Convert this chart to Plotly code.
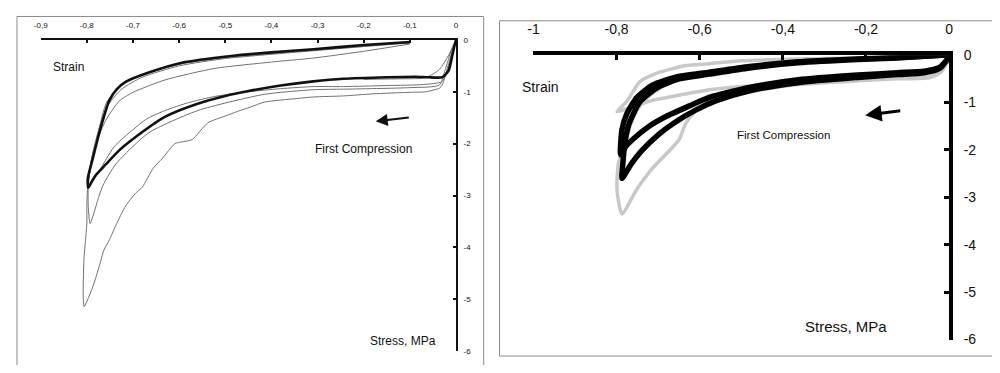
import plotly.graph_objects as go

# page is 1000x373 with the default 8 px body margin, so the figure is 984x357
OFF = 8
W, H = 1000 - 2 * OFF, 373 - 2 * OFF

# ---------------- Left panel data (strain, stress) ----------------
left_x_ticks = [-0.9, -0.8, -0.7, -0.6, -0.5, -0.4, -0.3, -0.2, -0.1, 0]
left_x_ticktext = ["-0,9", "-0,8", "-0,7", "-0,6", "-0,5", "-0,4", "-0,3", "-0,2", "-0,1", "0"]
y_ticks = [0, -1, -2, -3, -4, -5, -6]
y_ticktext = ["0", "-1", "-2", "-3", "-4", "-5", "-6"]

# thin cycle 1 (first compression, loading + unloading)
lt1_strain = [0, -0.008, -0.016, -0.03, -0.036, -0.066, -0.1, -0.18, -0.244, -0.309, -0.345, -0.416,
              -0.444, -0.474, -0.501, -0.538, -0.572, -0.609, -0.636, -0.656, -0.68, -0.694, -0.716,
              -0.737, -0.752, -0.763, -0.773, -0.786, -0.806,
              -0.808, -0.806, -0.803, -0.80, -0.80, -0.798, -0.79, -0.778, -0.759, -0.73, -0.70,
              -0.63, -0.523, -0.38, -0.309, -0.2, -0.1]
lt1_stress = [0, -0.2, -0.46, -0.87, -0.93, -1.0, -1.01, -1.04, -1.08, -1.1, -1.13, -1.2,
              -1.29, -1.38, -1.47, -1.6, -1.92, -2.0, -2.28, -2.47, -2.84, -2.95, -3.2,
              -3.57, -3.87, -4.05, -4.36, -4.73, -5.14,
              -4.86, -4.18, -3.87, -3.54, -3.2, -2.8, -2.4, -1.95, -1.55, -1.18, -1.01,
              -0.77, -0.55, -0.41, -0.35, -0.22, -0.08]

# thin cycle 2
lt2_strain = [0, -0.009, -0.024, -0.036, -0.1, -0.244, -0.309, -0.416, -0.559, -0.666, -0.737,
              -0.765, -0.774, -0.793,
              -0.797, -0.797, -0.79, -0.775, -0.757, -0.725, -0.68, -0.6, -0.5, -0.35, -0.2, -0.1]
lt2_stress = [0, -0.17, -0.59, -0.87, -0.92, -0.95, -0.96, -1.05, -1.36, -1.79, -2.39,
              -2.8, -3.02, -3.54,
              -3.2, -2.85, -2.3, -1.75, -1.3, -0.95, -0.72, -0.5, -0.36, -0.24, -0.13, -0.06]

# thin cycle 3
lt3_strain = [0, -0.012, -0.03, -0.07, -0.15, -0.244, -0.309, -0.38, -0.45, -0.523, -0.58, -0.63,
              -0.67, -0.70, -0.74, -0.773, -0.797,
              -0.79, -0.776, -0.757, -0.72, -0.67, -0.6, -0.49, -0.31, -0.2, -0.1]
lt3_stress = [0, -0.4, -0.8, -0.86, -0.88, -0.9, -0.9, -0.94, -1.0, -1.09, -1.21, -1.36,
              -1.52, -1.73, -2.05, -2.52, -2.85,
              -2.3, -1.8, -1.2, -0.84, -0.65, -0.47, -0.33, -0.2, -0.12, -0.05]

# thin unloading near the origin
lt4_strain = [-0.2, -0.12, -0.066, -0.036, -0.015, 0]
lt4_stress = [-0.76, -0.75, -0.73, -0.57, -0.28, 0]

# thick black cycle
lk_strain = [0, -0.003, -0.008, -0.016, -0.03, -0.06, -0.088, -0.15, -0.244, -0.309, -0.38, -0.452,
             -0.5, -0.56, -0.63, -0.70, -0.73, -0.759, -0.78, -0.79, -0.797,
             -0.798, -0.787, -0.773, -0.762, -0.752, -0.735, -0.716, -0.666, -0.594, -0.487,
             -0.4, -0.309, -0.2, -0.099]
lk_stress = [0, -0.1, -0.3, -0.59, -0.72, -0.72, -0.71, -0.72, -0.75, -0.8, -0.88, -0.99,
             -1.08, -1.23, -1.48, -1.91, -2.13, -2.4, -2.6, -2.74, -2.85,
             -2.67, -2.28, -1.79, -1.45, -1.18, -0.95, -0.81, -0.63, -0.44, -0.31,
             -0.24, -0.18, -0.1, -0.04]

# ---------------- Right panel data ----------------
right_x_ticks = [-1, -0.8, -0.6, -0.4, -0.2, 0]
right_x_ticktext = ["-1", "-0,8", "-0,6", "-0,4", "-0,2", "0"]

# gray outer loop (first compression)
rg1_strain = [0, -0.005, -0.02, -0.045, -0.125, -0.22, -0.363, -0.46, -0.52, -0.577, -0.609, -0.633,
              -0.649, -0.668, -0.713, -0.752, -0.787,
              -0.799, -0.796, -0.787, -0.778, -0.768, -0.75, -0.72, -0.68, -0.62, -0.55]
rg1_stress = [0, -0.15, -0.36, -0.47, -0.5, -0.54, -0.62, -0.74, -0.84, -0.97, -1.17, -1.43,
              -1.77, -1.97, -2.38, -2.84, -3.35,
              -2.84, -2.3, -2.04, -1.8, -1.5, -1.15, -0.85, -0.62, -0.45, -0.36]

# gray inner loop
rg2_strain = [0, -0.004, -0.023, -0.045, -0.125, -0.22, -0.363, -0.5, -0.577, -0.641, -0.72, -0.775,
              -0.799,
              -0.775, -0.744, -0.696, -0.633, -0.577, -0.5, -0.363, -0.22, -0.125]
rg2_stress = [0, -0.1, -0.33, -0.45, -0.48, -0.5, -0.56, -0.66, -0.73, -0.83, -0.97, -1.13,
              -1.19,
              -0.97, -0.56, -0.36, -0.22, -0.18, -0.12, -0.08, -0.06, -0.06]

# black band, cycle with tip near -2.1 MPa
rk1_strain = [0, -0.004, -0.023, -0.06, -0.125, -0.22, -0.363, -0.48, -0.577, -0.625, -0.68, -0.72,
              -0.76, -0.78, -0.79,
              -0.791, -0.787, -0.775, -0.751, -0.713, -0.656, -0.577, -0.48, -0.363, -0.22,
              -0.125, -0.05, 0]
rk1_stress = [0, -0.08, -0.26, -0.34, -0.37, -0.42, -0.52, -0.68, -0.89, -1.07, -1.29, -1.49,
              -1.77, -1.95, -2.1,
              -2.04, -1.57, -1.23, -0.89, -0.63, -0.46, -0.36, -0.24, -0.14, -0.08,
              -0.05, -0.02, 0]

# black band, cycle with tip near -2.6 MPa
rk2_strain = [0, -0.004, -0.023, -0.06, -0.125, -0.22, -0.363, -0.48, -0.56, -0.61, -0.66, -0.70,
              -0.74, -0.765, -0.787,
              -0.785, -0.78, -0.77, -0.745, -0.705, -0.65, -0.577, -0.48, -0.363, -0.22,
              -0.125, -0.05, 0]
rk2_stress = [0, -0.08, -0.28, -0.37, -0.41, -0.47, -0.58, -0.75, -0.96, -1.16, -1.42, -1.68,
              -2.02, -2.3, -2.6,
              -2.3, -1.85, -1.45, -1.0, -0.7, -0.5, -0.4, -0.27, -0.16, -0.09,
              -0.06, -0.02, 0]


def px(p):
    # page pixel -> paper x
    return (p - OFF) / W


def py(p):
    # page pixel -> paper y
    return 1 - (p - OFF) / H


FONT = "Liberation Sans, Arial, sans-serif"
THIN = "#707070"
LGRAY = "#c8c8c8"

fig = go.Figure()


def add(x, y, color, width, ax):
    fig.add_trace(go.Scatter(x=x, y=y, mode="lines", xaxis="x" + ax, yaxis="y" + ax,
                             line=dict(color=color, width=width, shape="spline", smoothing=0.6),
                             hoverinfo="skip", showlegend=False))


# left panel
add(lt1_strain, lt1_stress, THIN, 1, "")
add(lt2_strain, lt2_stress, THIN, 1, "")
add(lt3_strain, lt3_stress, THIN, 1, "")
add(lt4_strain, lt4_stress, THIN, 1, "")
add(lk_strain, lk_stress, "#111111", 2.6, "")

# right panel
add(rg1_strain, rg1_stress, LGRAY, 3.5, "2")
add(rg2_strain, rg2_stress, LGRAY, 3.5, "2")
add(rk1_strain, rk1_stress, "#000000", 5.5, "2")
add(rk2_strain, rk2_stress, "#000000", 5.5, "2")

fig.update_layout(
    width=W, height=H, margin=dict(l=0, r=0, t=0, b=0),
    paper_bgcolor="white", plot_bgcolor="white",
    font=dict(family=FONT, color="#111111"),
    xaxis=dict(domain=[px(34), px(454)], range=[-0.9, 0], side="top", anchor="y",
               showgrid=False, zeroline=False, showline=True, linecolor="#111", linewidth=2,
               ticks="inside", ticklen=3, tickwidth=2, tickcolor="#111",
               tickvals=left_x_ticks, ticktext=left_x_ticktext,
               tickfont=dict(size=8, family=FONT), ticklabelstandoff=7),
    yaxis=dict(domain=[py(359), py(33)], range=[-6, 0], side="right", anchor="x",
               showgrid=False, zeroline=False, showline=True, linecolor="#111", linewidth=2,
               ticks="inside", ticklen=3, tickwidth=2, tickcolor="#111",
               tickvals=y_ticks, ticktext=y_ticktext,
               tickfont=dict(size=8, family=FONT), ticklabelstandoff=4),
    xaxis2=dict(domain=[px(532.3), px(952.7)], range=[-1, 0], side="top", anchor="y2",
                showgrid=False, zeroline=False, showline=True, linecolor="#000", linewidth=3.5,
                ticks="inside", ticklen=5, tickwidth=3, tickcolor="#000",
                tickvals=right_x_ticks, ticktext=right_x_ticktext,
                tickfont=dict(size=14, family=FONT), ticklabelstandoff=12),
    yaxis2=dict(domain=[py(346.7), py(49)], range=[-6, 0], side="right", anchor="x2",
                showgrid=False, zeroline=False, showline=True, linecolor="#000", linewidth=3.5,
                ticks="inside", ticklen=5, tickwidth=3, tickcolor="#000",
                tickvals=y_ticks, ticktext=y_ticktext,
                tickfont=dict(size=14, family=FONT), ticklabelstandoff=8),
    shapes=[
        dict(type="rect", xref="paper", yref="paper", x0=px(10), x1=px(482), y0=-0.05, y1=py(8.5),
             line=dict(color="#8a8a8a", width=1)),
        dict(type="rect", xref="paper", yref="paper", x0=px(498), x1=1.05, y0=py(364), y1=py(13),
             line=dict(color="#8a8a8a", width=1)),
    ],
)

ann = []
# left panel text
ann.append(dict(text="Strain", xref="paper", yref="paper", x=px(44), y=py(52), showarrow=False,
                font=dict(size=12, family=FONT, color="#111")))
ann.append(dict(text="First Compression", xref="paper", yref="paper", x=px(360), y=py(147),
                showarrow=False, font=dict(size=12, family=FONT, color="#111")))
ann.append(dict(text="Stress, MPa", xref="paper", yref="paper", x=px(400), y=py(358),
                showarrow=False, font=dict(size=12, family=FONT, color="#111")))
ann.append(dict(x=-0.174, y=-1.57, ax=-0.099, ay=-1.49, xref="x", yref="y", axref="x", ayref="y",
                text="", showarrow=True, arrowhead=2, arrowsize=1.2, arrowwidth=2, arrowcolor="#111"))
# right panel text
ann.append(dict(text="Strain", xref="paper", yref="paper", x=px(539), y=py(72), showarrow=False,
                font=dict(size=14, family=FONT, color="#111")))
ann.append(dict(text="First Compression", xref="paper", yref="paper", x=px(834), y=py(133),
                showarrow=False, font=dict(size=11.5, family=FONT, color="#111")))
ann.append(dict(text="Stress, MPa", xref="paper", yref="paper", x=px(892), y=py(344),
                showarrow=False, font=dict(size=15, family=FONT, color="#111")))
ann.append(dict(x=-0.202, y=-1.27, ax=-0.114, ay=-1.17, xref="x2", yref="y2", axref="x2", ayref="y2",
                text="", showarrow=True, arrowhead=2, arrowsize=1.1, arrowwidth=3, arrowcolor="#000"))
fig.update_layout(annotations=ann)

fig.write_html("out.html", config={"displayModeBar": False})
